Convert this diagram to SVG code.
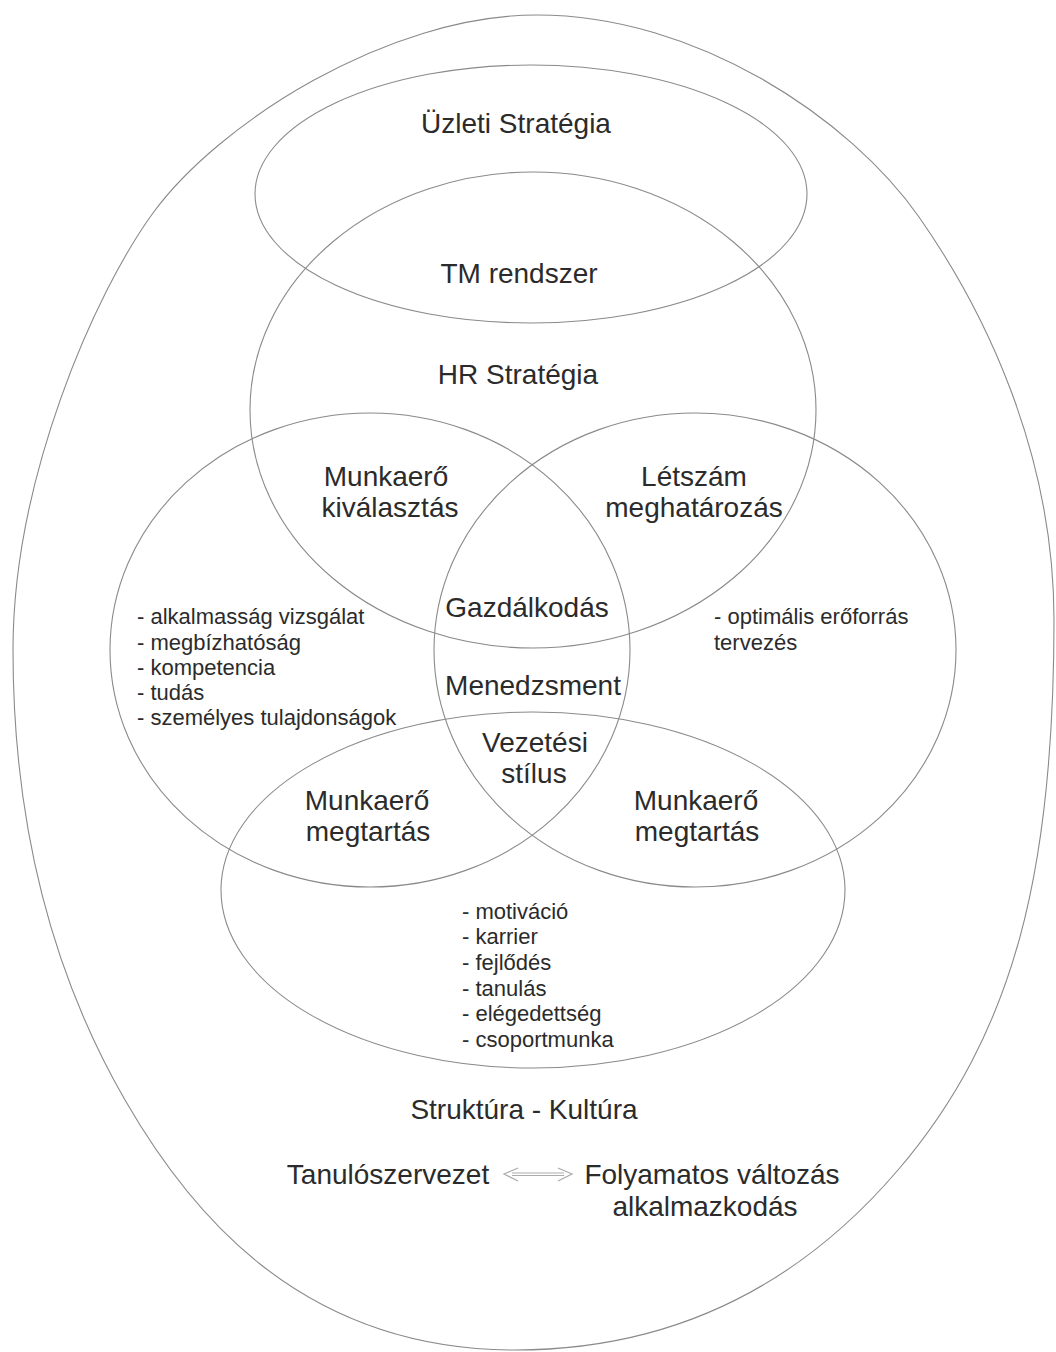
<svg xmlns="http://www.w3.org/2000/svg" width="1056" height="1352" viewBox="0 0 1056 1352">
<style>
.s{fill:none;stroke:#8a8a8a;stroke-width:1.1}
text{font-family:"Liberation Sans",Arial,sans-serif;fill:#2b2b2b}
.l{font-size:28px;text-anchor:middle}
.m{font-size:22px}
</style>
<rect width="1056" height="1352" fill="#fff"/>
<g id="outer"><path class="s" d="M537,15 C387,15 217.9,123.9 153,213 C94,294 13,480 13,650 C13,820 50,970 125,1100 C185,1204 295,1350 515,1350 C715,1350 833,1246 898,1170 C1015,1033 1054,870 1054,620 C1054,450 982,307 919,217 C850,118.6 697,15 537,15 Z"/></g>
<g id="uzleti"><ellipse class="s" cx="531" cy="194" rx="276" ry="129"/><text class="l" x="516" y="133">Üzleti Stratégia</text></g>
<g id="hr"><ellipse class="s" cx="533" cy="410" rx="283" ry="238"/><text class="l" x="519" y="283">TM rendszer</text><text class="l" x="518" y="384">HR Stratégia</text></g>
<g id="left"><ellipse class="s" cx="370" cy="650" rx="260" ry="237"/>
<text class="l" x="386" y="486">Munkaerő</text><text class="l" x="390" y="517">kiválasztás</text>
<text class="m" x="137" y="624">- alkalmasság vizsgálat</text>
<text class="m" x="137" y="650">- megbízhatóság</text>
<text class="m" x="137" y="675">- kompetencia</text>
<text class="m" x="137" y="700">- tudás</text>
<text class="m" x="137" y="725">- személyes tulajdonságok</text>
<text class="l" x="367" y="810">Munkaerő</text><text class="l" x="368" y="841">megtartás</text></g>
<g id="right"><ellipse class="s" cx="695" cy="650" rx="261" ry="237"/>
<text class="l" x="694" y="486">Létszám</text><text class="l" x="694" y="517">meghatározás</text>
<text class="m" x="714" y="624">- optimális erőforrás</text>
<text class="m" x="714" y="650">tervezés</text>
<text class="l" x="696" y="810">Munkaerő</text><text class="l" x="697" y="841">megtartás</text></g>
<g id="center"><text class="l" x="527" y="617">Gazdálkodás</text><text class="l" x="533" y="695">Menedzsment</text><text class="l" x="535" y="752">Vezetési</text><text class="l" x="534" y="783">stílus</text></g>
<g id="bottom"><ellipse class="s" cx="533" cy="890" rx="312" ry="178"/>
<text class="m" x="462" y="919">- motiváció</text>
<text class="m" x="462" y="944">- karrier</text>
<text class="m" x="462" y="970">- fejlődés</text>
<text class="m" x="462" y="996">- tanulás</text>
<text class="m" x="462" y="1021">- elégedettség</text>
<text class="m" x="462" y="1047">- csoportmunka</text></g>
<g id="culture"><text class="l" x="524" y="1119">Struktúra - Kultúra</text>
<text class="l" x="388" y="1184">Tanulószervezet</text>
<text class="l" x="712" y="1184">Folyamatos változás</text>
<text class="l" x="705" y="1216">alkalmazkodás</text></g>
<g id="connectors"><path d="M512,1173 H564 M512,1175.5 H564 M518,1168 L504,1174 L518,1181 M558,1168 L572,1174 L558,1181" fill="none" stroke="#ababab" stroke-width="1.2"/></g>
</svg>
